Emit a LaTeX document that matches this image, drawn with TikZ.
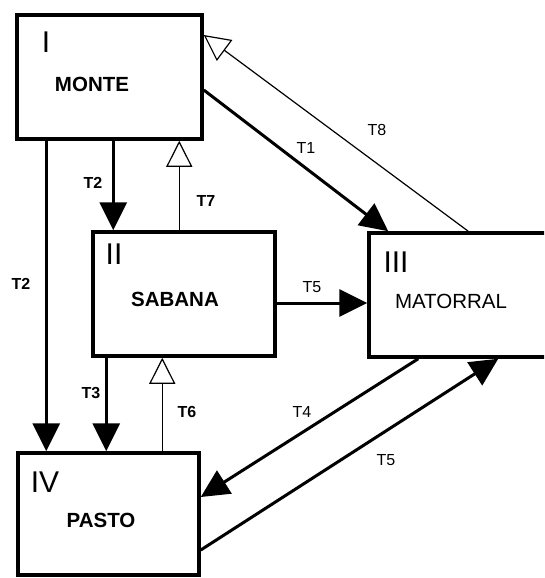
\documentclass[tikz,border=0pt]{standalone}
\usepackage{fontspec}
\setmainfont{Liberation Sans}
\usetikzlibrary{arrows.meta}
\tikzset{
  statebox/.style={draw, line width=3.5pt, rectangle, inner sep=0pt},
  thickarr/.style={line width=3pt, -{Triangle[length=28pt,width=27pt]}},
  openarr/.style={line width=1.2pt, -{Triangle[open,length=26pt,width=26pt,fill=white]}},
  romanlab/.style={font=\fontsize{30}{30}\selectfont, inner sep=0pt},
  boxname/.style={font=\fontsize{20.5}{20.5}\selectfont\bfseries, inner sep=0pt},
  boxnamereg/.style={font=\fontsize{20.5}{20.5}\selectfont, inner sep=0pt},
  tlab/.style={font=\fontsize{16}{16}\selectfont, inner sep=0pt},
  tlabb/.style={font=\fontsize{16}{16}\selectfont\bfseries, inner sep=0pt}
}
\begin{document}
\begin{tikzpicture}[x=1pt,y=-1pt]
\useasboundingbox (0,0) rectangle (544,578);
\fill[white] (0,0) rectangle (544,578);
\clip (0,0) rectangle (544,578);
% boxes
\node[statebox, minimum width=185pt, minimum height=124pt] (I) at (109.5,77) {};
\node[statebox, minimum width=182pt, minimum height=124pt] (II) at (184,294) {};
\node[statebox, minimum width=179pt, minimum height=124pt] (III) at (458.5,295) {};
\node[statebox, minimum width=181pt, minimum height=122pt] (IV) at (108.5,514) {};
% box texts
\node[romanlab] (rI) at (46,42) {I};
\node[boxname] (nI) at (92,84) {MONTE};
\node[romanlab] (rII) at (114,254) {II};
\node[boxname] (nII) at (175,299) {SABANA};
\node[romanlab] (rIII) at (396,262) {III};
\node[boxnamereg] (nIII) at (451,301) {MATORRAL};
\node[romanlab] (rIV) at (45,482) {IV};
\node[boxname] (nIV) at (101,520) {PASTO};
% connectors
\draw[thickarr] ([xshift=31pt]I.south west) -- ([xshift=30pt]IV.north west);
\draw[thickarr] ([xshift=98pt]I.south west) -- ([xshift=22pt]II.north west);
\draw[openarr] ([xshift=88pt]II.north west) -- ([xshift=164pt]I.south west);
\draw[thickarr] ([yshift=-13pt]I.east) -- ([xshift=21pt]III.north west);
\draw[openarr] ([xshift=101pt]III.north west) -- ([yshift=42pt]I.east);
\draw[thickarr] ([yshift=-9pt]II.east) -- ([yshift=-9pt]II.east -| III.west);
\draw[thickarr] ([xshift=15pt]II.south west) -- ([xshift=90pt]IV.north west);
\draw[openarr] ([xshift=146pt]IV.north west) -- ([xshift=71pt]II.south west);
\draw[thickarr] ([xshift=51pt]III.south west) -- ([yshift=17pt]IV.east);
\draw[thickarr] ([yshift=-36pt]IV.east) -- ([xshift=131pt]III.south west);
% connector labels
\node[tlabb] (l2a) at (21,284) {T2};
\node[tlabb] (l2b) at (93,183) {T2};
\node[tlabb] (l7) at (206,201) {T7};
\node[tlab] (l1) at (306,148) {T1};
\node[tlab] (l8) at (377,130) {T8};
\node[tlab] (l5a) at (312,287) {T5};
\node[tlabb] (l3) at (91,393) {T3};
\node[tlabb] (l6) at (187,412) {T6};
\node[tlab] (l4) at (302,412) {T4};
\node[tlab] (l5b) at (386,460) {T5};
\end{tikzpicture}
\end{document}
